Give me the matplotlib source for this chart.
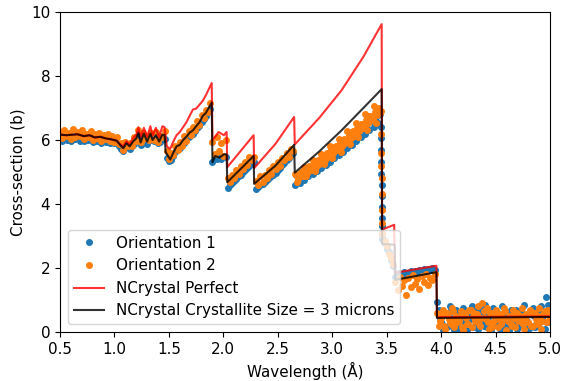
import numpy as np
import matplotlib
matplotlib.use("Agg")
import matplotlib.pyplot as plt

plt.rcParams['font.size'] = 10.9

# measured wavelength grid (Angstrom)
wavelength = [
    0.46, 0.48, 0.50, 0.52, 0.54, 0.56, 0.58, 0.60, 0.62, 0.64,
    0.66, 0.68, 0.70, 0.72, 0.74, 0.76, 0.78, 0.80, 0.82, 0.84,
    0.86, 0.88, 0.90, 0.92, 0.94, 0.96, 0.98, 1.00, 1.02, 1.04,
    1.06, 1.08, 1.10, 1.12, 1.14, 1.16, 1.18, 1.20, 1.22, 1.24,
    1.26, 1.28, 1.30, 1.32, 1.34, 1.36, 1.38, 1.40, 1.42, 1.44,
    1.46, 1.48, 1.50, 1.52, 1.54, 1.56, 1.58, 1.60, 1.62, 1.64,
    1.66, 1.68, 1.70, 1.72, 1.74, 1.76, 1.78, 1.80, 1.82, 1.84,
    1.86, 1.88, 1.90, 1.92, 1.94, 1.96, 1.98, 2.00, 2.02, 2.04,
    2.06, 2.08, 2.10, 2.12, 2.14, 2.16, 2.18, 2.20, 2.22, 2.24,
    2.26, 2.28, 2.30, 2.32, 2.34, 2.36, 2.38, 2.40, 2.42, 2.44,
    2.46, 2.48, 2.50, 2.52, 2.54, 2.56, 2.58, 2.60, 2.62, 2.64,
    2.66, 2.68, 2.70, 2.72, 2.74, 2.76, 2.78, 2.80, 2.82, 2.84,
    2.86, 2.88, 2.90, 2.92, 2.94, 2.96, 2.98, 3.00, 3.02, 3.04,
    3.06, 3.08, 3.10, 3.12, 3.14, 3.16, 3.18, 3.20, 3.22, 3.24,
    3.26, 3.28, 3.30, 3.32, 3.34, 3.36, 3.38, 3.40, 3.42, 3.44,
    3.46, 3.48, 3.50, 3.52, 3.54, 3.56, 3.58, 3.60, 3.62, 3.64,
    3.66, 3.68, 3.70, 3.72, 3.74, 3.76, 3.78, 3.80, 3.82, 3.84,
    3.86, 3.88, 3.90, 3.92, 3.94, 3.96, 3.98, 4.00, 4.02, 4.04,
    4.06, 4.08, 4.10, 4.12, 4.14, 4.16, 4.18, 4.20, 4.22, 4.24,
    4.26, 4.28, 4.30, 4.32, 4.34, 4.36, 4.38, 4.40, 4.42, 4.44,
    4.46, 4.48, 4.50, 4.52, 4.54, 4.56, 4.58, 4.60, 4.62, 4.64,
    4.66, 4.68, 4.70, 4.72, 4.74, 4.76, 4.78, 4.80, 4.82, 4.84,
    4.86, 4.88, 4.90, 4.92, 4.94, 4.96, 4.98, 5.00]

# orientation 1 cross-section (b)
orient1 = [
    # 0.46 - 0.96
    6.08, 6.02, 6.10, 5.98, 6.05, 6.00, 6.08, 5.96, 6.04, 6.02, 6.08, 5.98, 6.04,
    5.96, 6.02, 6.00, 6.05, 5.94, 6.00, 5.96, 6.02, 5.92, 5.98, 5.94, 5.96, 5.90,
    # 0.98 - 1.46
    5.94, 5.92, 5.90, 5.82, 5.72, 5.66, 5.76, 5.80, 5.72, 5.82, 5.88, 5.96, 6.12,
    5.84, 6.00, 6.04, 5.86, 6.02, 6.00, 5.96, 6.05, 5.92, 5.94, 6.06, 6.04,
    # 1.48 - 1.88
    5.45, 5.35, 5.38, 5.50, 5.62, 5.72, 5.76, 5.85, 5.92, 6.00, 6.08,
    6.15, 6.20, 6.28, 6.36, 6.44, 6.56, 6.66, 6.74, 6.86, 6.98,
    # 1.90 - 2.02
    5.32, 5.45, 5.40, 5.48, 5.42, 5.50, 5.46,
    # 2.04 - 2.26
    4.50, 4.60, 4.66, 4.72, 4.78, 4.86, 4.92, 5.00, 5.06, 5.14, 5.20, 5.26,
    # 2.28 - 2.64
    5.30, 4.46, 4.52, 4.58, 4.64, 4.70, 4.75, 4.81, 4.87, 4.92,
    4.98, 5.06, 5.14, 5.21, 5.29, 5.36, 5.44, 5.52, 5.59,
    # 2.66 - 3.44
    4.58, 4.87, 4.67, 4.96, 4.76, 5.05, 4.86, 5.13, 4.94, 5.22,
    5.03, 5.32, 5.12, 5.42, 5.22, 5.52, 5.32, 5.62, 5.43, 5.72,
    5.53, 5.81, 5.63, 5.93, 5.74, 6.04, 5.85, 6.15, 5.97, 6.26,
    6.08, 6.37, 6.19, 6.49, 6.30, 6.60, 6.41, 6.71, 6.52, 6.82,
    # 3.46 - 3.56
    2.90, 2.78, 2.58, 2.50, 2.25, 2.05,
    # 3.58 - 3.94
    1.72, 1.85, 1.75, 1.80, 1.88, 1.78, 1.85, 1.90, 1.82, 1.92,
    1.86, 1.94, 1.88, 1.96, 1.90, 1.98, 1.93, 2.00, 1.95,
    # 3.96 - 5.00
    0.95, 0.70, 0.30, 0.05, 0.60, 0.20, 0.80, 0.40, 0.05, 0.70,
    0.15, 0.45, 0.75, 0.25, 0.05, 0.50, 0.80, 0.20, 0.65, 0.10,
    0.55, 0.30, 0.85, 0.15, 0.50, 0.05, 0.75, 0.35, 0.60, 0.10,
    0.80, 0.25, 0.55, 0.05, 0.70, 0.30, 0.50, 0.10, 0.65, 0.20,
    0.85, 0.35, 0.05, 0.55, 0.75, 0.15, 0.50, 0.30, 0.80, 0.05,
    1.10, 0.85, 0.40]

# orientation 2 cross-section (b)
orient2 = [
    # 0.46 - 0.96
    6.35, 6.10, 6.25, 6.05, 6.32, 6.12, 6.22, 6.04, 6.35, 6.08, 6.26, 6.12, 6.30,
    6.02, 6.20, 6.10, 6.28, 6.00, 6.18, 6.06, 6.22, 5.98, 6.15, 6.04, 6.18, 5.98,
    # 0.98 - 1.46
    6.12, 5.95, 6.08, 5.88, 5.90, 5.70, 5.95, 5.82, 5.90, 5.82, 6.08, 5.98, 6.30,
    5.95, 6.22, 6.05, 6.08, 6.00, 6.22, 6.00, 6.25, 5.95, 6.12, 6.10, 6.28,
    # 1.48 - 1.88
    5.65, 5.40, 5.58, 5.52, 5.82, 5.70, 5.95, 5.80, 6.12, 5.98, 6.28,
    6.15, 6.40, 6.30, 6.58, 6.48, 6.78, 6.70, 6.95, 6.88, 7.15,
    # 1.90 - 2.02
    5.95, 5.55, 6.08, 5.65, 5.90, 5.50, 6.00,
    # 2.04 - 2.26
    4.80, 4.70, 4.92, 4.82, 5.06, 4.95, 5.18, 5.10, 5.32, 5.22, 5.46, 5.38,
    # 2.28 - 2.64
    5.48, 4.72, 4.58, 4.86, 4.70, 4.92, 4.82, 5.06, 4.95, 5.18,
    5.10, 5.32, 5.20, 5.45, 5.36, 5.60, 5.48, 5.72, 5.65,
    # 2.66 - 3.44
    4.94, 4.69, 4.94, 4.89, 5.15, 4.87, 5.15, 5.07, 5.36, 5.04,
    5.34, 5.26, 5.57, 5.24, 5.55, 5.48, 5.81, 5.44, 5.78, 5.69,
    6.04, 5.63, 6.00, 5.90, 6.29, 5.86, 6.25, 6.14, 6.54, 6.08,
    6.49, 6.37, 6.80, 6.30, 6.74, 6.61, 7.05, 6.53, 6.98, 6.84,
    # 3.46 - 3.56
    3.05, 2.85, 2.70, 2.45, 2.30, 2.12,
    # 3.58 - 3.94
    1.55, 1.30, 1.72, 1.45, 1.62, 1.15, 1.70, 1.40, 1.78, 1.50,
    1.65, 1.35, 1.75, 1.55, 1.80, 1.48, 1.70, 1.62, 1.82,
    # 3.96 - 5.00
    0.60, 0.20, 0.45, 0.70, 0.10, 0.55, 0.30, 0.75, 0.15, 0.50,
    0.35, 0.65, 0.05, 0.55, 0.25, 0.70, 0.15, 0.60, 0.40, 0.80,
    0.20, 0.90, 0.45, 0.75, 0.10, 0.60, 0.30, 0.70, 0.15, 0.55,
    0.35, 0.75, 0.05, 0.50, 0.25, 0.70, 0.15, 0.60, 0.40, 0.75,
    0.10, 0.55, 0.30, 0.70, 0.20, 0.60, 0.35, 0.75, 0.10, 0.55,
    0.30, 0.70, 0.45]

# orientation 2, extra points in the long ramp before 3.45 A
mid_wl = [
    2.67, 2.69, 2.71, 2.73, 2.75, 2.77, 2.79, 2.81, 2.83, 2.85,
    2.87, 2.89, 2.91, 2.93, 2.95, 2.97, 2.99, 3.01, 3.03, 3.05,
    3.07, 3.09, 3.11, 3.13, 3.15, 3.17, 3.19, 3.21, 3.23, 3.25,
    3.27, 3.29, 3.31, 3.33, 3.35, 3.37, 3.39, 3.41, 3.43]
mid_o2 = [
    4.90, 4.79, 4.99, 4.88, 5.09, 4.98, 5.18, 5.07, 5.28, 5.17,
    5.38, 5.27, 5.48, 5.38, 5.59, 5.49, 5.71, 5.60, 5.81, 5.71,
    5.92, 5.81, 6.03, 5.93, 6.15, 6.05, 6.27, 6.17, 6.39, 6.29,
    6.51, 6.41, 6.63, 6.53, 6.75, 6.65, 6.87, 6.77, 6.99]

# extra points on the Bragg edge near 3.45 A
edge_wl1 = [3.444, 3.446, 3.448, 3.450, 3.451, 3.453, 3.454, 3.456, 3.457, 3.458, 3.460, 3.462]
edge_o1 = [6.40, 6.05, 5.70, 5.30, 4.95, 4.60, 4.25, 3.90, 3.55, 3.30, 3.05, 2.90]
edge_wl2 = [3.445, 3.447, 3.449, 3.451, 3.453, 3.455, 3.457, 3.459, 3.461]
edge_o2 = [6.90, 6.20, 5.60, 5.20, 4.80, 4.30, 3.80, 3.40, 3.10]

# extra points past the last Bragg edge
tail_wl = [
    3.99, 4.01, 4.03, 4.05, 4.07, 4.09, 4.11, 4.13, 4.15, 4.17,
    4.19, 4.21, 4.23, 4.25, 4.27, 4.29, 4.31, 4.33, 4.35, 4.37,
    4.39, 4.41, 4.43, 4.45, 4.47, 4.49, 4.51, 4.53, 4.55, 4.57,
    4.59, 4.61, 4.63, 4.65, 4.67, 4.69, 4.71, 4.73, 4.75, 4.77,
    4.79, 4.81, 4.83, 4.85, 4.87, 4.89, 4.91, 4.93, 4.95, 4.97,
    4.99]
tail_o1 = [
    0.45, 0.25, 0.60, 0.15, 0.50, 0.70, 0.20, 0.35, 0.55, 0.10,
    0.65, 0.30, 0.20, 0.55, 0.40, 0.15, 0.60, 0.25, 0.45, 0.70,
    0.20, 0.50, 0.35, 0.10, 0.60, 0.25, 0.45, 0.15, 0.55, 0.35,
    0.20, 0.60, 0.15, 0.45, 0.30, 0.70, 0.25, 0.40, 0.55, 0.20,
    0.35, 0.60, 0.15, 0.50, 0.25, 0.65, 0.30, 0.45, 0.10, 0.55,
    0.30]
tail_o2 = [
    0.35, 0.55, 0.20, 0.60, 0.40, 0.25, 0.65, 0.45, 0.30, 0.50,
    0.15, 0.60, 0.45, 0.25, 0.70, 0.50, 0.35, 0.55, 0.25, 0.45,
    0.65, 0.40, 0.30, 0.60, 0.15, 0.50, 0.40, 0.55, 0.25, 0.45,
    0.65, 0.35, 0.50, 0.20, 0.45, 0.60, 0.35, 0.50, 0.25, 0.45,
    0.30, 0.55, 0.20, 0.60, 0.40, 0.25, 0.50, 0.35, 0.65, 0.30,
    0.50]

# NCrystal, perfect crystal
perf_wl = [0.46, 0.56, 0.66, 0.72, 0.77, 0.82, 0.87, 0.92, 0.97, 1.02,
           1.05, 1.08, 1.11, 1.14, 1.17, 1.20, 1.22, 1.24, 1.27, 1.30,
           1.33, 1.35, 1.38, 1.41, 1.44, 1.46, 1.481, 1.512, 1.54, 1.57,
           1.60, 1.63, 1.66, 1.69, 1.72, 1.75, 1.78, 1.81, 1.84, 1.893,
           1.90, 1.925, 1.955, 2.005, 2.030, 2.036, 2.278, 2.283, 2.479, 2.650,
           2.656, 2.883, 3.085, 3.286, 3.454, 3.458, 3.569, 3.574, 3.957, 3.962,
           5.00]
perf_xs = [6.18, 6.15, 6.18, 6.12, 6.15, 6.08, 6.10, 6.05, 6.02, 5.98,
           5.88, 5.80, 5.96, 5.86, 6.06, 6.16, 6.40, 6.08, 6.38, 6.10,
           6.43, 6.13, 6.38, 6.08, 6.43, 6.40, 5.80, 5.72, 5.95, 6.15,
           6.25, 6.40, 6.55, 6.75, 6.95, 6.98, 7.10, 7.22, 7.40, 7.78,
           6.00, 6.10, 6.25, 6.15, 6.25, 5.15, 6.15, 5.12, 5.88, 6.72,
           5.86, 6.70, 7.55, 8.60, 9.62, 3.20, 3.35, 1.85, 2.07, 0.46,
           0.49]

# NCrystal, 3 micron crystallites
cryst_wl = [0.46, 0.56, 0.66, 0.72, 0.77, 0.82, 0.87, 0.92, 0.97, 1.02,
            1.05, 1.08, 1.11, 1.14, 1.17, 1.20, 1.22, 1.24, 1.27, 1.30,
            1.33, 1.35, 1.38, 1.41, 1.44, 1.46, 1.47, 1.512, 1.54, 1.57,
            1.60, 1.63, 1.66, 1.69, 1.72, 1.75, 1.78, 1.81, 1.84, 1.893,
            1.90, 1.925, 1.965, 2.005, 2.030, 2.036, 2.278, 2.283, 2.479, 2.650,
            2.656, 2.883, 3.085, 3.286, 3.454, 3.458, 3.574, 3.579, 3.957, 3.962,
            5.00]
cryst_xs = [6.18, 6.15, 6.18, 6.12, 6.15, 6.08, 6.10, 6.05, 6.02, 5.98,
            5.85, 5.74, 5.90, 5.80, 5.95, 6.05, 6.22, 5.92, 6.20, 5.95,
            6.20, 6.00, 6.15, 5.95, 6.17, 6.15, 5.62, 5.39, 5.60, 5.80,
            5.85, 6.00, 6.10, 6.23, 6.30, 6.43, 6.55, 6.75, 6.85, 7.17,
            5.30, 5.50, 5.45, 5.55, 5.55, 4.68, 5.50, 4.63, 5.20, 5.85,
            4.98, 5.65, 6.30, 7.00, 7.59, 2.75, 2.73, 1.63, 1.87, 0.44,
            0.47]

fig, ax = plt.subplots(figsize=(5.61, 3.81), dpi=100)
fig.subplots_adjust(left=0.107, right=0.9804, bottom=0.1286, top=0.9685)

# measured data
ms = 8
ax.plot(wavelength, orient1, '.', color='tab:blue', ms=ms, label='Orientation 1')
ax.plot(edge_wl1, edge_o1, '.', color='tab:blue', ms=ms)
ax.plot(tail_wl, tail_o1, '.', color='tab:blue', ms=ms)
ax.plot(wavelength, orient2, '.', color='tab:orange', ms=ms, label='Orientation 2')
ax.plot(mid_wl, mid_o2, '.', color='tab:orange', ms=ms)
ax.plot(edge_wl2, edge_o2, '.', color='tab:orange', ms=ms)
ax.plot(tail_wl, tail_o2, '.', color='tab:orange', ms=ms)

# NCrystal models
ax.plot(perf_wl, perf_xs, color='red', alpha=0.8, lw=1.5, label='NCrystal Perfect')
ax.plot(cryst_wl, cryst_xs, color='black', alpha=0.8, lw=1.5,
        label='NCrystal Crystallite Size = 3 microns')

ax.set_xlim(0.5, 5.0)
ax.set_ylim(0, 10)
ax.set_xticks(np.arange(0.5, 5.01, 0.5))
ax.set_xlabel('Wavelength (Å)')
ax.set_ylabel('Cross-section (b)')
ax.legend(loc='lower left')

fig.savefig('out.png', dpi=100)
